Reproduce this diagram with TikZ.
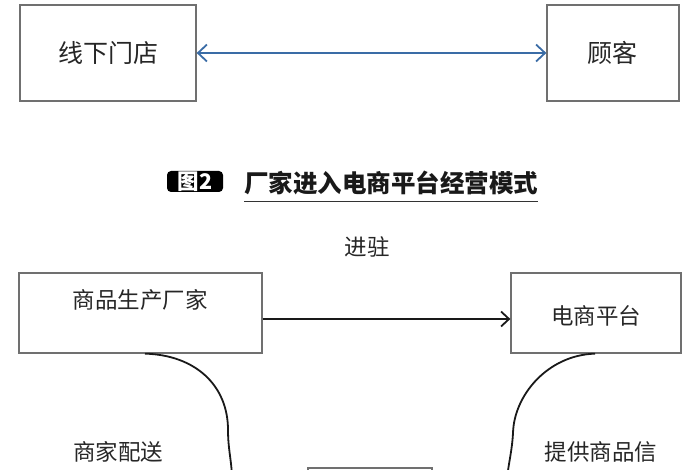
\documentclass[tikz,border=0pt]{standalone}
\usepackage{fontspec}
\setmainfont{Noto Sans CJK SC}
\newfontfamily\cjk{Noto Sans CJK SC}
\usetikzlibrary{arrows.meta,calc}
\definecolor{boxgray}{HTML}{707070}
\definecolor{arrblue}{HTML}{3A6CA6}
\tikzset{
  box/.style={draw=boxgray,line width=1.3pt,rectangle,inner sep=0pt},
  lbl/.style={font=\cjk\fontsize{22.5}{26}\selectfont,text=black!85,inner sep=0pt},
  biglbl/.style={font=\cjk\fontsize{25}{29}\selectfont,text=black!85,inner sep=0pt},
  curve/.style={line width=1.8pt,black!90},
}
\begin{document}
\begin{tikzpicture}[x=1pt,y=-1pt]
\useasboundingbox (0,0) rectangle (700,470);
\clip (0,0) rectangle (700,470);
% top part
\node[box,minimum width=176pt,minimum height=96pt] (store) at (108,53) {};
\node[biglbl] (storet) at (108,53) {线下门店};
\node[box,minimum width=132pt,minimum height=96pt] (cust) at (613,53) {};
\node[biglbl] (custt) at (612,53) {顾客};
\draw[arrblue,line width=1.8pt,{Straight Barb[length=9pt,width=17pt]}-{Straight Barb[length=9pt,width=17pt]}] (store.east) -- (cust.west);
% title
\node[fill=black,rounded corners=4pt,minimum width=56pt,minimum height=21pt,inner sep=0pt] (badge) at (195,181.5) {};
\node[font=\cjk\bfseries\fontsize{21.5}{22}\selectfont,text=white,inner sep=0pt] (badget) at (195,181.5) {图2};
\node[font=\cjk\bfseries\fontsize{24.5}{28}\selectfont,inner sep=0pt,anchor=west,text=black!90] (title) at (244,183) {厂家进入电商平台经营模式};
\draw[black!80,line width=1pt] (title.south west |- 0,202) coordinate (ul1) -- (title.south east |- 0,202) coordinate (ul2);
% bottom part
\node[lbl] (enter) at (367,247) {进驻};
\node[box,minimum width=243pt,minimum height=80pt] (maker) at (140.5,313) {};
\node[lbl] (makert) at (140,300) {商品生产厂家};
\node[box,minimum width=170pt,minimum height=80pt] (plat) at (596,313) {};
\node[lbl] (platt) at (596,316) {电商平台};
\draw[black!90,line width=1.8pt,-{Straight Barb[length=8pt,width=15pt]}] (maker.east |- 0,319) -- (plat.west |- 0,319);
\node[box,minimum width=124pt,minimum height=60pt] (shop) at (370,498) {};
\coordinate (lstart) at (maker.south west -| 145,0);
\coordinate (lend) at (232,480);
\coordinate (rstart) at (plat.south west -| 595,0);
\coordinate (rend) at (507,480);
\draw[curve] (lstart) .. controls (195,355) and (228,385) .. (228,430) .. controls (228,450) and (232,462) .. (lend);
\draw[curve] (rstart) .. controls (548,355) and (514,395) .. (513,433) .. controls (512,452) and (508,465) .. (rend);
\node[lbl] (deliv) at (118,452) {商家配送};
\node[lbl] (info) at (601,452) {提供商品信};
\end{tikzpicture}
\end{document}
